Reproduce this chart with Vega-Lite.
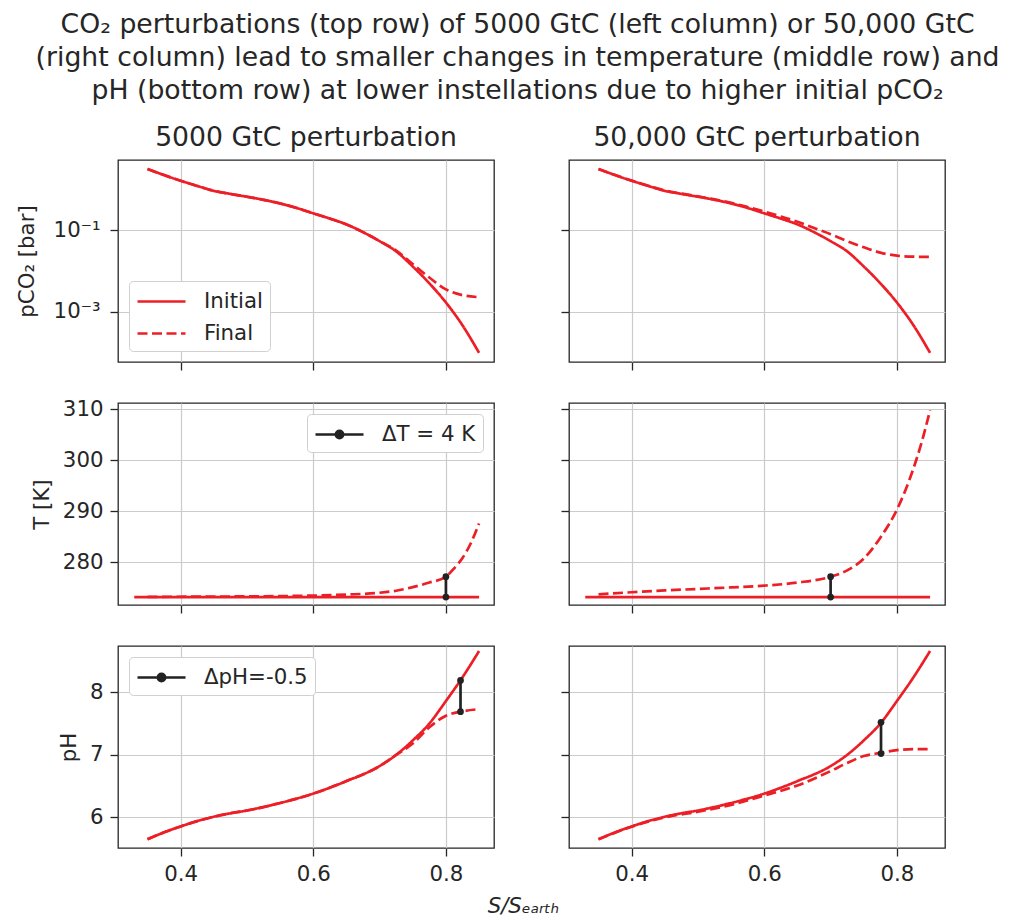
{
  "$schema": "https://vega.github.io/schema/vega-lite/v6.json",
  "padding": {"left": 15, "top": 11, "right": 10, "bottom": 5},
  "background": "white",
  "title": {
    "text": ["CO₂ perturbations (top row) of 5000 GtC (left column) or 50,000 GtC", "(right column) lead to smaller changes in temperature (middle row) and", "pH (bottom row) at lower instellations due to higher initial pCO₂"],
    "fontSize": 26.7, "lineHeight": 33, "anchor": "middle", "frame": "bounds", "dx": 37, "offset": 20, "fontWeight": "normal", "color": "#262626"
  },
  "datasets": {
    "curves": [
      {"c":"B","v":"pco2","t":"Initial","S":0.35,"y":3.11},
      {"c":"B","v":"pco2","t":"Initial","S":0.375,"y":2.21},
      {"c":"B","v":"pco2","t":"Initial","S":0.4,"y":1.61},
      {"c":"B","v":"pco2","t":"Initial","S":0.425,"y":1.2},
      {"c":"B","v":"pco2","t":"Initial","S":0.45,"y":0.912},
      {"c":"B","v":"pco2","t":"Initial","S":0.475,"y":0.767},
      {"c":"B","v":"pco2","t":"Initial","S":0.5,"y":0.653},
      {"c":"B","v":"pco2","t":"Initial","S":0.525,"y":0.55},
      {"c":"B","v":"pco2","t":"Initial","S":0.55,"y":0.447},
      {"c":"B","v":"pco2","t":"Initial","S":0.575,"y":0.347},
      {"c":"B","v":"pco2","t":"Initial","S":0.6,"y":0.257},
      {"c":"B","v":"pco2","t":"Initial","S":0.625,"y":0.191},
      {"c":"B","v":"pco2","t":"Initial","S":0.65,"y":0.138},
      {"c":"B","v":"pco2","t":"Initial","S":0.675,"y":0.0891},
      {"c":"B","v":"pco2","t":"Initial","S":0.7,"y":0.0537},
      {"c":"B","v":"pco2","t":"Initial","S":0.725,"y":0.0302},
      {"c":"B","v":"pco2","t":"Initial","S":0.75,"y":0.0129},
      {"c":"B","v":"pco2","t":"Initial","S":0.775,"y":0.00501},
      {"c":"B","v":"pco2","t":"Initial","S":0.8,"y":0.0017},
      {"c":"B","v":"pco2","t":"Initial","S":0.825,"y":0.00047},
      {"c":"B","v":"pco2","t":"Initial","S":0.85,"y":0.0001},

      {"c":"L","v":"pco2","t":"Final","S":0.35,"y":3.11},
      {"c":"L","v":"pco2","t":"Final","S":0.375,"y":2.21},
      {"c":"L","v":"pco2","t":"Final","S":0.4,"y":1.61},
      {"c":"L","v":"pco2","t":"Final","S":0.425,"y":1.2},
      {"c":"L","v":"pco2","t":"Final","S":0.45,"y":0.912},
      {"c":"L","v":"pco2","t":"Final","S":0.475,"y":0.767},
      {"c":"L","v":"pco2","t":"Final","S":0.5,"y":0.653},
      {"c":"L","v":"pco2","t":"Final","S":0.525,"y":0.55},
      {"c":"L","v":"pco2","t":"Final","S":0.55,"y":0.447},
      {"c":"L","v":"pco2","t":"Final","S":0.575,"y":0.347},
      {"c":"L","v":"pco2","t":"Final","S":0.6,"y":0.257},
      {"c":"L","v":"pco2","t":"Final","S":0.625,"y":0.191},
      {"c":"L","v":"pco2","t":"Final","S":0.65,"y":0.138},
      {"c":"L","v":"pco2","t":"Final","S":0.675,"y":0.0891},
      {"c":"L","v":"pco2","t":"Final","S":0.7,"y":0.0537},
      {"c":"L","v":"pco2","t":"Final","S":0.725,"y":0.0316},
      {"c":"L","v":"pco2","t":"Final","S":0.75,"y":0.0148},
      {"c":"L","v":"pco2","t":"Final","S":0.775,"y":0.00692},
      {"c":"L","v":"pco2","t":"Final","S":0.8,"y":0.00355},
      {"c":"L","v":"pco2","t":"Final","S":0.825,"y":0.00257},
      {"c":"L","v":"pco2","t":"Final","S":0.85,"y":0.00229},

      {"c":"R","v":"pco2","t":"Final","S":0.35,"y":3.11},
      {"c":"R","v":"pco2","t":"Final","S":0.375,"y":2.21},
      {"c":"R","v":"pco2","t":"Final","S":0.4,"y":1.62},
      {"c":"R","v":"pco2","t":"Final","S":0.425,"y":1.21},
      {"c":"R","v":"pco2","t":"Final","S":0.45,"y":0.925},
      {"c":"R","v":"pco2","t":"Final","S":0.475,"y":0.78},
      {"c":"R","v":"pco2","t":"Final","S":0.5,"y":0.665},
      {"c":"R","v":"pco2","t":"Final","S":0.525,"y":0.565},
      {"c":"R","v":"pco2","t":"Final","S":0.55,"y":0.462},
      {"c":"R","v":"pco2","t":"Final","S":0.575,"y":0.365},
      {"c":"R","v":"pco2","t":"Final","S":0.6,"y":0.285},
      {"c":"R","v":"pco2","t":"Final","S":0.625,"y":0.215},
      {"c":"R","v":"pco2","t":"Final","S":0.65,"y":0.16},
      {"c":"R","v":"pco2","t":"Final","S":0.675,"y":0.112},
      {"c":"R","v":"pco2","t":"Final","S":0.7,"y":0.0794},
      {"c":"R","v":"pco2","t":"Final","S":0.725,"y":0.0537},
      {"c":"R","v":"pco2","t":"Final","S":0.75,"y":0.038},
      {"c":"R","v":"pco2","t":"Final","S":0.775,"y":0.0282},
      {"c":"R","v":"pco2","t":"Final","S":0.8,"y":0.0237},
      {"c":"R","v":"pco2","t":"Final","S":0.825,"y":0.0224},
      {"c":"R","v":"pco2","t":"Final","S":0.85,"y":0.0221},

      {"c":"B","v":"T","t":"Initial","S":0.33,"y":273.15},
      {"c":"B","v":"T","t":"Initial","S":0.5,"y":273.15},
      {"c":"B","v":"T","t":"Initial","S":0.7,"y":273.15},
      {"c":"B","v":"T","t":"Initial","S":0.85,"y":273.15},

      {"c":"L","v":"T","t":"Final","S":0.35,"y":273.2},
      {"c":"L","v":"T","t":"Final","S":0.45,"y":273.25},
      {"c":"L","v":"T","t":"Final","S":0.55,"y":273.35},
      {"c":"L","v":"T","t":"Final","S":0.6,"y":273.45},
      {"c":"L","v":"T","t":"Final","S":0.65,"y":273.65},
      {"c":"L","v":"T","t":"Final","S":0.7,"y":274.0},
      {"c":"L","v":"T","t":"Final","S":0.725,"y":274.4},
      {"c":"L","v":"T","t":"Final","S":0.75,"y":275.1},
      {"c":"L","v":"T","t":"Final","S":0.775,"y":276.0},
      {"c":"L","v":"T","t":"Final","S":0.8,"y":277.15},
      {"c":"L","v":"T","t":"Final","S":0.8125,"y":278.8},
      {"c":"L","v":"T","t":"Final","S":0.825,"y":280.8},
      {"c":"L","v":"T","t":"Final","S":0.8375,"y":283.7},
      {"c":"L","v":"T","t":"Final","S":0.85,"y":287.6},

      {"c":"R","v":"T","t":"Final","S":0.35,"y":273.7},
      {"c":"R","v":"T","t":"Final","S":0.4,"y":274.1},
      {"c":"R","v":"T","t":"Final","S":0.45,"y":274.45},
      {"c":"R","v":"T","t":"Final","S":0.5,"y":274.75},
      {"c":"R","v":"T","t":"Final","S":0.55,"y":275.05},
      {"c":"R","v":"T","t":"Final","S":0.6,"y":275.4},
      {"c":"R","v":"T","t":"Final","S":0.65,"y":276.0},
      {"c":"R","v":"T","t":"Final","S":0.7,"y":277.15},
      {"c":"R","v":"T","t":"Final","S":0.725,"y":278.4},
      {"c":"R","v":"T","t":"Final","S":0.75,"y":280.7},
      {"c":"R","v":"T","t":"Final","S":0.775,"y":284.8},
      {"c":"R","v":"T","t":"Final","S":0.8,"y":290.3},
      {"c":"R","v":"T","t":"Final","S":0.8125,"y":294.0},
      {"c":"R","v":"T","t":"Final","S":0.825,"y":298.4},
      {"c":"R","v":"T","t":"Final","S":0.8375,"y":303.6},
      {"c":"R","v":"T","t":"Final","S":0.85,"y":309.8},

      {"c":"B","v":"pH","t":"Initial","S":0.35,"y":5.65},
      {"c":"B","v":"pH","t":"Initial","S":0.375,"y":5.76},
      {"c":"B","v":"pH","t":"Initial","S":0.4,"y":5.855},
      {"c":"B","v":"pH","t":"Initial","S":0.425,"y":5.94},
      {"c":"B","v":"pH","t":"Initial","S":0.45,"y":6.01},
      {"c":"B","v":"pH","t":"Initial","S":0.475,"y":6.065},
      {"c":"B","v":"pH","t":"Initial","S":0.5,"y":6.11},
      {"c":"B","v":"pH","t":"Initial","S":0.55,"y":6.23},
      {"c":"B","v":"pH","t":"Initial","S":0.6,"y":6.38},
      {"c":"B","v":"pH","t":"Initial","S":0.65,"y":6.58},
      {"c":"B","v":"pH","t":"Initial","S":0.7,"y":6.82},
      {"c":"B","v":"pH","t":"Initial","S":0.725,"y":7.0},
      {"c":"B","v":"pH","t":"Initial","S":0.75,"y":7.23},
      {"c":"B","v":"pH","t":"Initial","S":0.775,"y":7.5},
      {"c":"B","v":"pH","t":"Initial","S":0.8,"y":7.86},
      {"c":"B","v":"pH","t":"Initial","S":0.825,"y":8.24},
      {"c":"B","v":"pH","t":"Initial","S":0.85,"y":8.66},

      {"c":"L","v":"pH","t":"Final","S":0.35,"y":5.65},
      {"c":"L","v":"pH","t":"Final","S":0.375,"y":5.76},
      {"c":"L","v":"pH","t":"Final","S":0.4,"y":5.855},
      {"c":"L","v":"pH","t":"Final","S":0.425,"y":5.94},
      {"c":"L","v":"pH","t":"Final","S":0.45,"y":6.01},
      {"c":"L","v":"pH","t":"Final","S":0.475,"y":6.065},
      {"c":"L","v":"pH","t":"Final","S":0.5,"y":6.11},
      {"c":"L","v":"pH","t":"Final","S":0.55,"y":6.23},
      {"c":"L","v":"pH","t":"Final","S":0.6,"y":6.38},
      {"c":"L","v":"pH","t":"Final","S":0.65,"y":6.58},
      {"c":"L","v":"pH","t":"Final","S":0.7,"y":6.82},
      {"c":"L","v":"pH","t":"Final","S":0.725,"y":7.0},
      {"c":"L","v":"pH","t":"Final","S":0.75,"y":7.18},
      {"c":"L","v":"pH","t":"Final","S":0.775,"y":7.44},
      {"c":"L","v":"pH","t":"Final","S":0.8,"y":7.625},
      {"c":"L","v":"pH","t":"Final","S":0.825,"y":7.695},
      {"c":"L","v":"pH","t":"Final","S":0.85,"y":7.73},

      {"c":"R","v":"pH","t":"Final","S":0.35,"y":5.65},
      {"c":"R","v":"pH","t":"Final","S":0.4,"y":5.85},
      {"c":"R","v":"pH","t":"Final","S":0.45,"y":6.0},
      {"c":"R","v":"pH","t":"Final","S":0.5,"y":6.09},
      {"c":"R","v":"pH","t":"Final","S":0.55,"y":6.2},
      {"c":"R","v":"pH","t":"Final","S":0.6,"y":6.35},
      {"c":"R","v":"pH","t":"Final","S":0.65,"y":6.51},
      {"c":"R","v":"pH","t":"Final","S":0.7,"y":6.74},
      {"c":"R","v":"pH","t":"Final","S":0.725,"y":6.87},
      {"c":"R","v":"pH","t":"Final","S":0.75,"y":6.98},
      {"c":"R","v":"pH","t":"Final","S":0.775,"y":7.03},
      {"c":"R","v":"pH","t":"Final","S":0.8,"y":7.075},
      {"c":"R","v":"pH","t":"Final","S":0.825,"y":7.09},
      {"c":"R","v":"pH","t":"Final","S":0.85,"y":7.09}
    ],
    "marks": [
      {"c":"L","v":"T","lab":"ΔT = 4 K","S":0.8,"y":273.15},
      {"c":"L","v":"T","lab":"ΔT = 4 K","S":0.8,"y":277.15},
      {"c":"R","v":"T","lab":"ΔT = 4 K","S":0.7,"y":273.15},
      {"c":"R","v":"T","lab":"ΔT = 4 K","S":0.7,"y":277.15},
      {"c":"L","v":"pH","lab":"ΔpH=-0.5","S":0.822,"y":8.19},
      {"c":"L","v":"pH","lab":"ΔpH=-0.5","S":0.822,"y":7.69},
      {"c":"R","v":"pH","lab":"ΔpH=-0.5","S":0.776,"y":7.52},
      {"c":"R","v":"pH","lab":"ΔpH=-0.5","S":0.776,"y":7.02}
    ]
  },
  "columns": 2,
  "spacing": {"row": 41, "column": 75},
  "bounds": "flush",
  "resolve": {
    "scale": {"strokeDash": "independent", "color": "independent"},
    "legend": {"strokeDash": "independent", "color": "independent"}
  },
  "concat": [
    {
      "width": 376, "height": 202,
      "title": "5000 GtC perturbation",
      "data": {"name": "curves"},
      "transform": [{"filter": "datum.v == 'pco2' && (datum.c == 'L' || datum.c == 'B')"}],
      "mark": {"type": "line", "color": "#ec1f27", "strokeWidth": 2.7, "interpolate": "monotone"},
      "encoding": {
        "x": {"field": "S", "type": "quantitative", "scale": {"domain": [0.3055, 0.8725], "nice": false, "zero": false}, "axis": {"values": [0.4, 0.6, 0.8], "labels": false, "title": null}},
        "y": {"field": "y", "type": "quantitative", "scale": {"type": "log", "domain": [5.97e-5, 5.17], "nice": false}, "axis": {"values": [0.001, 0.1], "labelExpr": "datum.value < 0.01 ? '10⁻³' : '10⁻¹'", "labelPadding": 10, "title": "pCO₂ [bar]", "titlePadding": 16}},
        "strokeDash": {"field": "t", "type": "nominal", "scale": {"domain": ["Initial", "Final"], "range": [[1, 0], [10, 4.5]]},
          "legend": {"title": null, "orient": "bottom-left", "offset": 11, "symbolType": "M-1,0L3,0", "symbolSize": 576, "symbolStrokeWidth": 2.7, "symbolStrokeColor": "#ec1f27", "labelOffset": 41, "padding": 7, "rowPadding": 8}}
      }
    },
    {
      "width": 376, "height": 202,
      "title": "50,000 GtC perturbation",
      "data": {"name": "curves"},
      "transform": [{"filter": "datum.v == 'pco2' && (datum.c == 'R' || datum.c == 'B')"}],
      "mark": {"type": "line", "color": "#ec1f27", "strokeWidth": 2.7, "interpolate": "monotone"},
      "encoding": {
        "x": {"field": "S", "type": "quantitative", "scale": {"domain": [0.3055, 0.8725], "nice": false, "zero": false}, "axis": {"values": [0.4, 0.6, 0.8], "labels": false, "title": null}},
        "y": {"field": "y", "type": "quantitative", "scale": {"type": "log", "domain": [5.97e-5, 5.17], "nice": false}, "axis": {"values": [0.001, 0.1], "labels": false, "title": null}},
        "strokeDash": {"field": "t", "type": "nominal", "scale": {"domain": ["Initial", "Final"], "range": [[1, 0], [10, 4.5]]}, "legend": null}
      }
    },
    {
      "width": 376, "height": 202,
      "layer": [
        {
          "data": {"name": "curves"},
          "transform": [{"filter": "datum.v == 'T' && (datum.c == 'L' || datum.c == 'B')"}],
          "mark": {"type": "line", "color": "#ec1f27", "strokeWidth": 2.7, "interpolate": "monotone"},
          "encoding": {
            "x": {"field": "S", "type": "quantitative", "scale": {"domain": [0.3055, 0.8725], "nice": false, "zero": false}, "axis": {"values": [0.4, 0.6, 0.8], "labels": false, "title": null}},
            "y": {"field": "y", "type": "quantitative", "scale": {"domain": [271.6, 311.2], "nice": false, "zero": false}, "axis": {"values": [280, 290, 300, 310], "format": "d", "title": "T [K]"}},
            "strokeDash": {"field": "t", "type": "nominal", "scale": {"domain": ["Initial", "Final"], "range": [[1, 0], [10, 4.5]]}, "legend": null}
          }
        },
        {
          "data": {"name": "marks"},
          "transform": [{"filter": "datum.v == 'T' && datum.c == 'L'"}],
          "mark": {"type": "line", "strokeWidth": 2.7},
          "encoding": {
            "x": {"field": "S", "type": "quantitative"},
            "y": {"field": "y", "type": "quantitative"},
            "color": {"field": "lab", "type": "nominal", "scale": {"range": ["#222222"]},
              "legend": {"title": null, "orient": "top-right", "offset": 11, "symbolType": "M-1,0L3,0M0.7,0A0.3,0.3,0,1,1,1.3,0A0.3,0.3,0,1,1,0.7,0Z", "symbolSize": 576, "symbolStrokeWidth": 2.7, "labelOffset": 41, "padding": 7,
                "encode": {"symbols": {"update": {"fill": {"value": "#222222"}, "stroke": {"value": "#222222"}, "opacity": {"value": 1}}}}}}
          }
        },
        {
          "data": {"name": "marks"},
          "transform": [{"filter": "datum.v == 'T' && datum.c == 'L'"}],
          "mark": {"type": "point", "filled": true, "size": 45, "opacity": 1},
          "encoding": {
            "x": {"field": "S", "type": "quantitative"},
            "y": {"field": "y", "type": "quantitative"},
            "color": {"field": "lab", "type": "nominal"}
          }
        }
      ]
    },
    {
      "width": 376, "height": 202,
      "layer": [
        {
          "data": {"name": "curves"},
          "transform": [{"filter": "datum.v == 'T' && (datum.c == 'R' || datum.c == 'B')"}],
          "mark": {"type": "line", "color": "#ec1f27", "strokeWidth": 2.7, "interpolate": "monotone"},
          "encoding": {
            "x": {"field": "S", "type": "quantitative", "scale": {"domain": [0.3055, 0.8725], "nice": false, "zero": false}, "axis": {"values": [0.4, 0.6, 0.8], "labels": false, "title": null}},
            "y": {"field": "y", "type": "quantitative", "scale": {"domain": [271.6, 311.2], "nice": false, "zero": false}, "axis": {"values": [280, 290, 300, 310], "labels": false, "title": null}},
            "strokeDash": {"field": "t", "type": "nominal", "scale": {"domain": ["Initial", "Final"], "range": [[1, 0], [10, 4.5]]}, "legend": null}
          }
        },
        {
          "data": {"name": "marks"},
          "transform": [{"filter": "datum.v == 'T' && datum.c == 'R'"}],
          "mark": {"type": "line", "strokeWidth": 2.7},
          "encoding": {
            "x": {"field": "S", "type": "quantitative"},
            "y": {"field": "y", "type": "quantitative"},
            "color": {"field": "lab", "type": "nominal", "scale": {"range": ["#222222"]}, "legend": null}
          }
        },
        {
          "data": {"name": "marks"},
          "transform": [{"filter": "datum.v == 'T' && datum.c == 'R'"}],
          "mark": {"type": "point", "filled": true, "size": 45, "opacity": 1},
          "encoding": {
            "x": {"field": "S", "type": "quantitative"},
            "y": {"field": "y", "type": "quantitative"},
            "color": {"field": "lab", "type": "nominal", "legend": null}
          }
        }
      ]
    },
    {
      "width": 376, "height": 202,
      "layer": [
        {
          "data": {"name": "curves"},
          "transform": [{"filter": "datum.v == 'pH' && (datum.c == 'L' || datum.c == 'B')"}],
          "mark": {"type": "line", "color": "#ec1f27", "strokeWidth": 2.7, "interpolate": "monotone"},
          "encoding": {
            "x": {"field": "S", "type": "quantitative", "scale": {"domain": [0.3055, 0.8725], "nice": false, "zero": false},
              "axis": {"values": [0.4, 0.6, 0.8], "format": ".1f", "title": "S/Sₑₐᵣₜₕ", "titleFontStyle": "italic", "titleX": 405, "titleY": 64, "titleAnchor": null, "titleAlign": "center", "titleBaseline": "alphabetic"}},
            "y": {"field": "y", "type": "quantitative", "scale": {"domain": [5.51, 8.74], "nice": false, "zero": false}, "axis": {"values": [6, 7, 8], "format": "d", "title": "pH"}},
            "strokeDash": {"field": "t", "type": "nominal", "scale": {"domain": ["Initial", "Final"], "range": [[1, 0], [10, 4.5]]}, "legend": null}
          }
        },
        {
          "data": {"name": "marks"},
          "transform": [{"filter": "datum.v == 'pH' && datum.c == 'L'"}],
          "mark": {"type": "line", "strokeWidth": 2.7},
          "encoding": {
            "x": {"field": "S", "type": "quantitative"},
            "y": {"field": "y", "type": "quantitative"},
            "color": {"field": "lab", "type": "nominal", "scale": {"range": ["#222222"]},
              "legend": {"title": null, "orient": "top-left", "offset": 11, "symbolType": "M-1,0L3,0M0.7,0A0.3,0.3,0,1,1,1.3,0A0.3,0.3,0,1,1,0.7,0Z", "symbolSize": 576, "symbolStrokeWidth": 2.7, "labelOffset": 41, "padding": 7,
                "encode": {"symbols": {"update": {"fill": {"value": "#222222"}, "stroke": {"value": "#222222"}, "opacity": {"value": 1}}}}}}
          }
        },
        {
          "data": {"name": "marks"},
          "transform": [{"filter": "datum.v == 'pH' && datum.c == 'L'"}],
          "mark": {"type": "point", "filled": true, "size": 45, "opacity": 1},
          "encoding": {
            "x": {"field": "S", "type": "quantitative"},
            "y": {"field": "y", "type": "quantitative"},
            "color": {"field": "lab", "type": "nominal"}
          }
        }
      ]
    },
    {
      "width": 376, "height": 202,
      "layer": [
        {
          "data": {"name": "curves"},
          "transform": [{"filter": "datum.v == 'pH' && (datum.c == 'R' || datum.c == 'B')"}],
          "mark": {"type": "line", "color": "#ec1f27", "strokeWidth": 2.7, "interpolate": "monotone"},
          "encoding": {
            "x": {"field": "S", "type": "quantitative", "scale": {"domain": [0.3055, 0.8725], "nice": false, "zero": false}, "axis": {"values": [0.4, 0.6, 0.8], "format": ".1f", "title": null}},
            "y": {"field": "y", "type": "quantitative", "scale": {"domain": [5.51, 8.74], "nice": false, "zero": false}, "axis": {"values": [6, 7, 8], "labels": false, "title": null}},
            "strokeDash": {"field": "t", "type": "nominal", "scale": {"domain": ["Initial", "Final"], "range": [[1, 0], [10, 4.5]]}, "legend": null}
          }
        },
        {
          "data": {"name": "marks"},
          "transform": [{"filter": "datum.v == 'pH' && datum.c == 'R'"}],
          "mark": {"type": "line", "strokeWidth": 2.7},
          "encoding": {
            "x": {"field": "S", "type": "quantitative"},
            "y": {"field": "y", "type": "quantitative"},
            "color": {"field": "lab", "type": "nominal", "scale": {"range": ["#222222"]}, "legend": null}
          }
        },
        {
          "data": {"name": "marks"},
          "transform": [{"filter": "datum.v == 'pH' && datum.c == 'R'"}],
          "mark": {"type": "point", "filled": true, "size": 45, "opacity": 1},
          "encoding": {
            "x": {"field": "S", "type": "quantitative"},
            "y": {"field": "y", "type": "quantitative"},
            "color": {"field": "lab", "type": "nominal", "legend": null}
          }
        }
      ]
    }
  ],
  "config": {
    "font": "DejaVu Sans",
    "view": {"stroke": "#262626", "strokeWidth": 1.3},
    "axis": {"domain": false, "grid": true, "gridColor": "#cbcbcb", "gridWidth": 1.2, "tickColor": "#262626", "tickSize": 8, "tickWidth": 1.3, "labelFontSize": 21.3, "labelColor": "#262626", "labelPadding": 7, "titleFontSize": 21.3, "titleFontWeight": "normal", "titleColor": "#262626", "titlePadding": 10},
    "title": {"fontSize": 26.7, "fontWeight": "normal", "color": "#262626", "offset": 8},
    "legend": {"fillColor": "white", "strokeColor": "#d0d0d0", "cornerRadius": 4, "padding": 8, "labelFontSize": 21.3, "labelColor": "#262626", "labelOffset": 16, "rowPadding": 10}
  }
}
